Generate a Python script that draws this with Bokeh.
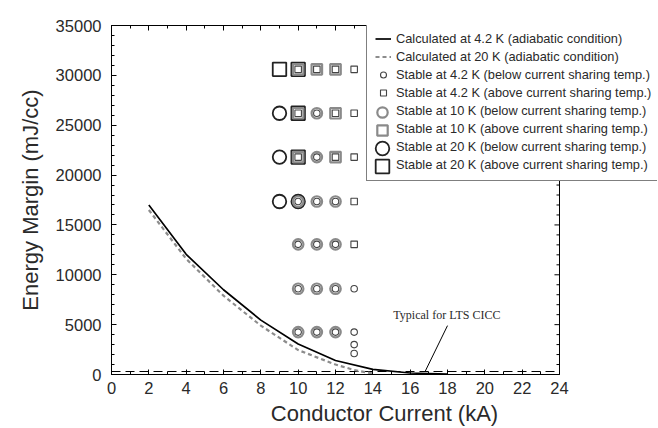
from bokeh.plotting import figure
from bokeh.models import (Legend, LegendItem, LinearAxis, SingleIntervalTicker,
                          CustomJSTickFormatter, Span, Label, Range1d)
from bokeh.embed import file_html
from bokeh.resources import INLINE

# ---------------- data ----------------
current_42 = [2, 4, 6, 8, 10, 12, 14, 16, 18]
margin_42 = [17000, 12050, 8500, 5450, 3050, 1400, 520, 150, 30]

current_20 = [2, 4, 6, 8, 10, 12, 13, 14]
margin_20 = [16500, 11600, 7900, 4900, 2450, 1000, 450, 100]

typical_margin = 300

# stable points, large (20 K)
s20_x = [9, 10, 10, 10]
s20_y = [30600, 30600, 26200, 21800]
c20_x = [9, 9, 9, 10]
c20_y = [26200, 21800, 17350, 17350]
# medium (10 K)
s10_x = [10, 11, 12, 10, 12, 10, 12]
s10_y = [30600, 30600, 30600, 26200, 26200, 21800, 21800]
c10_x = [11, 11, 10, 11, 12, 10, 11, 12, 10, 11, 12, 10, 11, 12]
c10_y = [26200, 21800, 17350, 17350, 17350, 13050, 13050, 13050,
         8600, 8600, 8600, 4250, 4250, 4250]
# small (4.2 K)
s42_x = [10, 11, 12, 13, 10, 12, 13, 10, 12, 13, 13, 13]
s42_y = [30600, 30600, 30600, 30600, 26200, 26200, 26200,
         21800, 21800, 21800, 17350, 13050]
c42_x = [11, 11, 10, 11, 12, 10, 11, 12, 10, 11, 12, 13, 10, 11, 12, 13, 13, 13]
c42_y = [26200, 21800, 17350, 17350, 17350, 13050, 13050, 13050,
         8600, 8600, 8600, 8600, 4250, 4250, 4250, 4250, 3000, 2100]

legend_labels = [
    "Calculated at 4.2 K (adiabatic condition)",
    "Calculated at 20 K (adiabatic condition)",
    "Stable at 4.2 K (below current sharing temp.)",
    "Stable at 4.2 K (above current sharing temp.)",
    "Stable at 10 K (below current sharing temp.)",
    "Stable at 10 K (above current sharing temp.)",
    "Stable at 20 K (below current sharing temp.)",
    "Stable at 20 K (above current sharing temp.)",
]

x_min, x_max = 0, 24
y_min, y_max = 0, 35000
x_ticks_interval = 2
y_ticks_interval = 5000
y_minor_interval = 1000

FONT = "Liberation Sans"
TXT = "#2a2a2a"

# the frame is widened to the right so that the legend (which sticks out of
# the axes box in the original) is not clipped; the axes are bounded to 0..24
x_view_max = x_max * 546 / 448.0

p = figure(width=658, height=428, x_range=Range1d(x_min, x_view_max),
           y_range=Range1d(y_min, y_max),
           output_backend="svg", toolbar_location=None,
           min_border_left=111, min_border_right=1, min_border_top=25,
           min_border_bottom=53, background_fill_color="white",
           border_fill_color="white")
p.grid.visible = False
p.outline_line_color = None


def style_axis(ax, bounds, labels=True):
    ax.bounds = bounds
    ax.axis_line_color = "black"
    ax.major_tick_in = 5
    ax.major_tick_out = 0
    ax.minor_tick_in = 3
    ax.minor_tick_out = 0
    ax.major_tick_line_color = "black"
    ax.minor_tick_line_color = "black"
    ax.major_label_text_font = FONT
    ax.major_label_text_font_size = "16.5px"
    ax.major_label_text_color = TXT
    ax.axis_label_text_font = FONT
    ax.axis_label_text_font_size = "22px"
    ax.axis_label_text_font_style = "normal"
    ax.axis_label_text_color = TXT
    if not labels:
        ax.formatter = CustomJSTickFormatter(code="return ''")
        ax.major_label_standoff = 0


xa = p.below[0]
xa.ticker = SingleIntervalTicker(interval=x_ticks_interval, num_minor_ticks=2)
xa.axis_label = "Conductor Current (kA)"
style_axis(xa, (x_min, x_max))
xa.major_label_standoff = 7
xa.axis_label_standoff = 4

ya = p.left[0]
ya.ticker = SingleIntervalTicker(interval=y_ticks_interval, num_minor_ticks=5)
ya.axis_label = "Energy Margin (mJ/cc)"
style_axis(ya, (y_min, y_max))
ya.major_label_standoff = 10
ya.axis_label_standoff = 10

top_ax = LinearAxis(ticker=SingleIntervalTicker(interval=x_ticks_interval, num_minor_ticks=2))
style_axis(top_ax, (x_min, x_max), labels=False)
p.add_layout(top_ax, "above")

# right edge of the axes box at x = 24, with inward ticks
p.add_layout(Span(location=x_max, dimension="height", line_color="black", line_width=1))
rt_y = list(range(y_min, y_max + 1, y_minor_interval))
rt_len = [0.27 if v % y_ticks_interval == 0 else 0.16 for v in rt_y]
p.segment(x0=[x_max] * len(rt_y), y0=rt_y, x1=[x_max - l for l in rt_len], y1=rt_y,
          line_color="black", line_width=1)

# typical LTS CICC line
p.segment(x0=[x_min], y0=[typical_margin], x1=[x_max], y1=[typical_margin],
          line_color="black", line_width=1, line_dash="9 5")

# curves
r_solid = p.line(current_42, margin_42, line_color="black", line_width=1.7)
r_dash = p.line(current_20, margin_20, line_color="#8c8c8c", line_width=2.2,
                line_dash="4 3")

# markers (large first, small last)
big = dict(size=13.5, line_color="#222222", line_width=1.8, fill_color=None)
mid = dict(size=10.5, line_color="#8a8a8a", line_width=2.2, fill_color=None)
sml = dict(size=6.5, line_color="#444444", line_width=1.1, fill_color=None)

r_s20 = p.scatter(s20_x, s20_y, marker="square", **big)
r_c20 = p.scatter(c20_x, c20_y, marker="circle", **big)
r_s10 = p.scatter(s10_x, s10_y, marker="square", **mid)
r_c10 = p.scatter(c10_x, c10_y, marker="circle", **mid)
r_s42 = p.scatter(s42_x, s42_y, marker="square", **sml)
r_c42 = p.scatter(c42_x, c42_y, marker="circle", **sml)
r_dummy = p.scatter([], [], marker="circle", size=1, line_alpha=0, fill_alpha=0)

# annotation
ann_x, ann_y = 15.1, 6000
p.add_layout(Label(x=ann_x, y=ann_y, text="Typical for LTS CICC",
                   text_font="Liberation Serif", text_font_size="12px",
                   text_color=TXT, text_baseline="middle"))
lead_x0, lead_y0, lead_x1, lead_y1 = 18.0, 4900, 16.8, typical_margin
p.segment(x0=[lead_x0], y0=[lead_y0], x1=[lead_x1], y1=[lead_y1],
          line_color="black", line_width=1)

# main legend (text, lines and small markers)
main_items = [
    LegendItem(label=legend_labels[0], renderers=[r_solid]),
    LegendItem(label=legend_labels[1], renderers=[r_dash]),
    LegendItem(label=legend_labels[2], renderers=[r_c42]),
    LegendItem(label=legend_labels[3], renderers=[r_s42]),
    LegendItem(label=legend_labels[4], renderers=[r_dummy]),
    LegendItem(label=legend_labels[5], renderers=[r_dummy]),
    LegendItem(label=legend_labels[6], renderers=[r_dummy]),
    LegendItem(label=legend_labels[7], renderers=[r_dummy]),
]
leg = Legend(items=main_items, location=(255, 193), padding=8, spacing=3,
             glyph_width=16, glyph_height=15, label_height=15, label_standoff=5,
             label_text_font=FONT, label_text_font_size="12.8px",
             label_text_color=TXT, border_line_color="black", border_line_width=1,
             background_fill_color="white", background_fill_alpha=1, margin=0)
p.add_layout(leg)


def marker_legend(renderer, g, loc):
    return Legend(items=[LegendItem(label=" ", renderers=[renderer])], location=loc,
                  padding=0, margin=0, spacing=0, glyph_width=g, glyph_height=g,
                  label_standoff=0, label_width=0, label_height=0,
                  label_text_font_size="1px", border_line_alpha=0,
                  background_fill_alpha=0)


p.add_layout(marker_legend(r_c10, 26, (258, 249)))
p.add_layout(marker_legend(r_s10, 26, (258, 231)))
p.add_layout(marker_legend(r_c20, 34, (254, 209)))
p.add_layout(marker_legend(r_s20, 34, (254, 191)))

open("out.html", "w").write(file_html(p, INLINE))
